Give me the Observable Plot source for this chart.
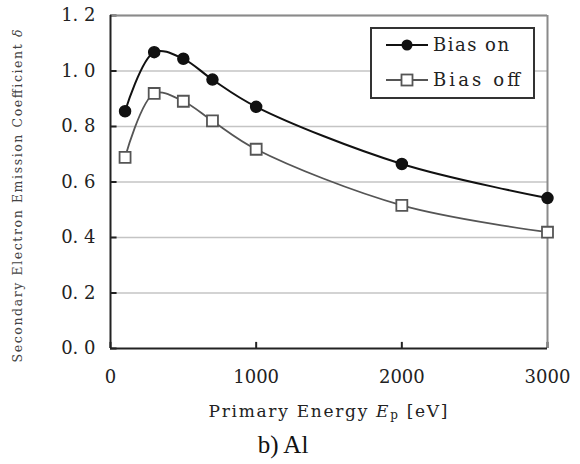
<!DOCTYPE html>
<html><head><meta charset="utf-8">
<script src="https://cdn.jsdelivr.net/npm/d3@7"></script>
<script src="https://cdn.jsdelivr.net/npm/@observablehq/plot@0.6"></script>
<style>
body{margin:0;background:#fff;}
#chart svg, #chart svg text{font-family:"DejaVu Serif",serif !important;}
#cap{width:580px;height:39px;font-family:"Liberation Serif",serif;font-size:25px;color:#111;text-align:center;box-sizing:border-box;padding-right:14px;line-height:39px;}
</style></head>
<body>
<div id="chart"></div>
<div id="cap">b) Al</div>
<script>
const energy = [100, 300, 500, 700, 1000, 2000, 3000];
const biasOn = [0.855, 1.068, 1.044, 0.969, 0.871, 0.665, 0.542];
const biasOff = [0.689, 0.919, 0.891, 0.820, 0.718, 0.516, 0.419];
const seriesNames = ["Bias on", "Bias off"];
const xTicks = [0, 1000, 2000, 3000];
const yTicks = [0, 0.2, 0.4, 0.6, 0.8, 1.0, 1.2];
const xLabel = ["Primary Energy ", "E", "p", " [eV]"];
const yLabel = ["Secondary Electron Emission Coefficient ", "δ"];
const caption = "b) Al";
const FONT = '"DejaVu Serif",serif';

const on = energy.map((e, i) => ({x: e, y: biasOn[i]}));
const off = energy.map((e, i) => ({x: e, y: biasOff[i]}));

const plot = Plot.plot({
  width: 580, height: 425,
  marginLeft: 110, marginRight: 33, marginTop: 15, marginBottom: 77,
  style: {fontFamily: FONT},
  x: {domain: [0, 3000]},
  y: {domain: [0, 1.2]},
  marks: [
    Plot.ruleY(yTicks.filter(d => d > 0), {stroke: "#c4c4c4", strokeWidth: 1.5}),
    Plot.ruleY(yTicks, {x1: 0, x2: 45, stroke: "#222", strokeWidth: 2}),
    Plot.ruleX(xTicks, {y1: 0, y2: 0.022, stroke: "#222", strokeWidth: 2}),
    Plot.ruleY([1.2], {stroke: "#8a8a8a", strokeWidth: 2}),
    Plot.ruleX([3000], {stroke: "#8a8a8a", strokeWidth: 2}),
    Plot.ruleX([0], {stroke: "#222", strokeWidth: 2}),
    Plot.ruleY([0], {stroke: "#222", strokeWidth: 2}),
    Plot.axisX({ticks: xTicks, tickSize: 0, tickPadding: 22, fontSize: 18, label: null, tickFormat: d3.format("d")}),
    Plot.axisY({ticks: yTicks, tickSize: 0, tickPadding: 15, fontSize: 18, label: null, tickFormat: d => d3.format(".1f")(d).replace(".", ". ")}),
    Plot.line(off, {x: "x", y: "y", curve: "catmull-rom", stroke: "#555", strokeWidth: 1.8}),
    Plot.line(on, {x: "x", y: "y", curve: "catmull-rom", stroke: "#111", strokeWidth: 2}),
    Plot.dot(off, {x: "x", y: "y", symbol: "square", r: 6.2, fill: "white", stroke: "#555", strokeWidth: 1.8}),
    Plot.dot(on, {x: "x", y: "y", r: 5.5, fill: "#111", stroke: "#111"})
  ]
});
document.getElementById("chart").appendChild(plot);
document.getElementById("cap").textContent = caption;

const svg = d3.select(plot);
svg.selectAll("text").attr("fill", "#222").attr("font-family", FONT);

// x axis label
const xl = svg.append("text").attr("x", 328).attr("y", 417).attr("text-anchor", "middle").attr("font-family", FONT)
  .attr("font-size", 17).attr("fill", "#222").attr("textLength", 239).attr("lengthAdjust", "spacing");
xl.append("tspan").text(xLabel[0]);
xl.append("tspan").attr("font-style", "italic").text(xLabel[1]);
xl.append("tspan").attr("font-size", 12).attr("dy", 2).text(xLabel[2]);
xl.append("tspan").attr("dy", -2).text(xLabel[3]);

// y axis label
const yl = svg.append("text").attr("transform", "translate(22,196) rotate(-90)").attr("text-anchor", "middle").attr("font-family", FONT)
  .attr("font-size", 12.5).attr("fill", "#444").attr("textLength", 333).attr("lengthAdjust", "spacing");
yl.append("tspan").text(yLabel[0]);
yl.append("tspan").attr("font-style", "italic").text(yLabel[1]);

// legend
const lg = svg.append("g");
lg.append("rect").attr("x", 371).attr("y", 28).attr("width", 163).attr("height", 70)
  .attr("fill", "white").attr("stroke", "#333").attr("stroke-width", 2);
[[45, "#111", "circle"], [80, "#555", "square"]].forEach(([y, c, s], i) => {
  lg.append("line").attr("x1", 386).attr("x2", 428).attr("y1", y).attr("y2", y).attr("stroke", c).attr("stroke-width", 2);
  if (s === "circle") lg.append("circle").attr("cx", 407).attr("cy", y).attr("r", 5.5).attr("fill", "#111");
  else lg.append("rect").attr("x", 401.5).attr("y", y - 5.5).attr("width", 11).attr("height", 11).attr("fill", "white").attr("stroke", c).attr("stroke-width", 1.8);
  lg.append("text").attr("x", 433).attr("y", y + 6).attr("font-size", 18).attr("fill", "#222").attr("font-family", FONT)
    .attr("text-anchor", "start")
    .attr("textLength", i === 0 ? 76 : 87).attr("lengthAdjust", "spacing").text(seriesNames[i]);
});
</script>
</body></html>
